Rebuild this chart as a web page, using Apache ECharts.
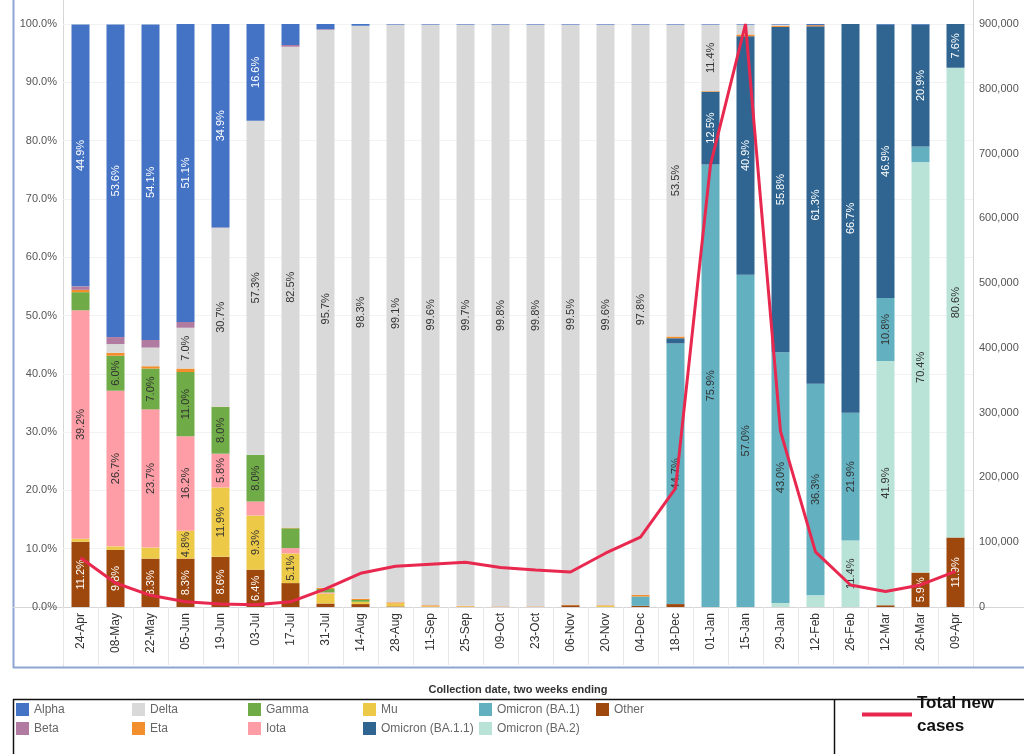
<!DOCTYPE html>
<html>
<head>
<meta charset="utf-8">
<script src="https://cdn.jsdelivr.net/npm/echarts@6/dist/echarts.min.js"></script>
<style>
html,body{margin:0;padding:0;background:#fff;}
#chart{width:1024px;height:754px;}
</style>
</head>
<body>
<div id="chart"></div>
<script>
// ---- data ----
const categories = ['24-Apr','08-May','22-May','05-Jun','19-Jun','03-Jul','17-Jul','31-Jul','14-Aug','28-Aug','11-Sep','25-Sep','09-Oct','23-Oct','06-Nov','20-Nov','04-Dec','18-Dec','01-Jan','15-Jan','29-Jan','12-Feb','26-Feb','12-Mar','26-Mar','09-Apr'];
const other   = [11.2,9.8,8.3,8.3,8.6,6.4,4.1,0.6,0.5,0.1,0,0,0,0,0.3,0,0.2,0.5,0,0,0,0,0,0.3,5.9,11.9];
const ba2     = [0,0,0,0,0,0,0,0,0,0,0,0,0,0,0,0,0,0,0,0,0.7,2.0,11.4,41.9,70.4,80.6];
const ba1     = [0,0,0,0,0,0,0,0,0,0,0,0,0,0,0,0,1.6,44.7,75.9,57.0,43.0,36.3,21.9,10.8,2.7,0];
const ba11    = [0,0,0,0,0,0,0,0,0,0,0,0,0,0,0,0,0,0.9,12.5,40.9,55.8,61.3,66.7,46.9,20.9,7.6];
const mu      = [0.5,0.6,1.9,4.8,11.9,9.3,5.1,1.7,0.4,0.5,0.1,0.1,0,0,0,0.2,0,0,0,0,0,0,0,0,0,0];
const iota    = [39.2,26.7,23.7,16.2,5.8,2.4,0.9,0.2,0,0,0,0,0,0,0,0,0,0,0,0,0,0,0,0,0,0];
const gamma   = [3.1,6.0,7.0,11.0,8.0,8.0,3.4,0.6,0.3,0,0,0,0,0,0,0,0,0,0,0,0,0,0,0,0,0];
const eta     = [0.4,0.5,0.4,0.6,0.05,0,0.1,0.2,0.2,0.2,0.2,0.1,0.1,0.1,0.1,0.1,0.3,0.3,0.1,0.3,0.2,0.2,0,0,0,0];
const delta   = [0,1.5,3.2,7.0,30.7,57.3,82.5,95.7,98.3,99.1,99.6,99.7,99.8,99.8,99.5,99.6,97.8,53.5,11.4,1.7,0.2,0,0,0,0,0];
const beta    = [0.6,1.2,1.3,1.0,0.05,0,0.3,0.1,0,0,0,0,0,0,0,0,0,0,0,0,0,0,0,0,0,0];
const alpha   = [44.9,53.6,54.1,51.1,34.9,16.6,3.6,0.9,0.3,0.1,0.1,0.1,0.1,0.1,0.1,0.1,0.1,0.1,0.1,0.1,0.1,0.2,0,0.1,0.1,0];
const totalNewCases = [76000,37000,18000,8000,4500,3500,8000,28000,52000,63000,66000,69000,61000,57000,54000,83000,108000,183000,683000,900000,271000,85000,34000,24000,34000,55000];
const leftTicks = [0,10,20,30,40,50,60,70,80,90,100];
const rightTicks = [0,100000,200000,300000,400000,500000,600000,700000,800000,900000];

// ---- series definitions (stack order bottom -> top) ----
const variants = [
  {name:'Other', data:other, color:'#9E480E', label:'#ffffff'},
  {name:'Omicron (BA.2)', data:ba2, color:'#BAE3D8', label:'#333333'},
  {name:'Omicron (BA.1)', data:ba1, color:'#63B1C0', label:'#333333'},
  {name:'Omicron (BA.1.1)', data:ba11, color:'#2F6590', label:'#ffffff'},
  {name:'Mu', data:mu, color:'#EDC948', label:'#333333'},
  {name:'Iota', data:iota, color:'#FF9DA7', label:'#333333'},
  {name:'Gamma', data:gamma, color:'#6FAB46', label:'#333333'},
  {name:'Eta', data:eta, color:'#F28E2B', label:'#333333'},
  {name:'Delta', data:delta, color:'#D9D9D9', label:'#333333'},
  {name:'Beta', data:beta, color:'#B07AA1', label:'#ffffff'},
  {name:'Alpha', data:alpha, color:'#4472C4', label:'#ffffff'}
];

const FONT = 'Liberation Sans';
const series = variants.map(v => ({
  name: v.name,
  type: 'bar',
  stack: 'share',
  yAxisIndex: 0,
  barWidth: 18,
  data: v.data,
  itemStyle: {color: v.color},
  emphasis: {disabled: true},
  label: {
    show: true,
    position: 'inside',
    rotate: 90,
    fontFamily: FONT,
    fontSize: 11,
    color: v.label,
    formatter: p => (p.value >= 4.5 ? p.value.toFixed(1) + '%' : '')
  }
}));
series.push({
  name: 'Total new cases',
  type: 'line',
  yAxisIndex: 1,
  data: totalNewCases,
  symbol: 'none',
  smooth: false,
  clip: false,
  z: 10,
  lineStyle: {color: '#E8284F', width: 3},
  itemStyle: {color: '#E8284F'}
});

const legendCols = [
  {left: 16, data: ['Alpha','Beta']},
  {left: 132, data: ['Delta','Eta']},
  {left: 248, data: ['Gamma','Iota']},
  {left: 363, data: ['Mu','Omicron (BA.1.1)']},
  {left: 479, data: ['Omicron (BA.1)','Omicron (BA.2)']},
  {left: 596, data: ['Other']}
];
const legends = legendCols.map(c => ({
  left: c.left, top: 703, orient: 'vertical', padding: 0,
  itemWidth: 13, itemHeight: 13, itemGap: 6, icon: 'rect',
  selectedMode: false,
  data: c.data,
  textStyle: {fontFamily: FONT, fontSize: 12, color: '#666666'}
}));
legends.push({
  left: 862, top: 680, padding: 0, icon: 'rect',
  itemWidth: 50, itemHeight: 4, selectedMode: false,
  data: ['Total new cases'],
  formatter: () => 'Total new\ncases',
  textStyle: {fontFamily: FONT, fontSize: 17, fontWeight: 'bold', color: '#111111', lineHeight: 23, padding: [23,0,0,0]}
});

const frame = '#8EA6CF';
const divider = '#D6D6D6';
function ln(x1,y1,x2,y2,color,w){return {type:'line', silent:true, z:-1, shape:{x1,y1,x2,y2}, style:{stroke:color, lineWidth:w}};}

const option = {
  animation: false,
  backgroundColor: '#ffffff',
  grid: {left: 63, right: 51, top: 24, bottom: 147, containLabel: false},
  legend: legends,
  xAxis: {
    type: 'category',
    data: categories,
    boundaryGap: true,
    name: 'Collection date, two weeks ending',
    nameLocation: 'middle',
    nameGap: 77,
    nameTextStyle: {fontFamily: FONT, fontSize: 11, fontWeight: 'bold', color: '#333333'},
    axisLine: {show: true, lineStyle: {color: divider}},
    axisTick: {show: true, length: 58, interval: 0, lineStyle: {color: '#E8E8E8'}},
    axisLabel: {rotate: 90, interval: 0, margin: 6, fontFamily: FONT, fontSize: 12, color: '#333333'}
  },
  yAxis: [
    {
      type: 'value', min: 0, max: 100, interval: 10,
      axisLine: {show: false}, axisTick: {show: false},
      splitLine: {show: true, lineStyle: {color: '#F2F2F2'}},
      axisLabel: {margin: 6, fontFamily: FONT, fontSize: 11, color: '#555555', padding: [6,0,0,0],
        formatter: v => (leftTicks.includes(v) ? v.toFixed(1) + '%' : '')}
    },
    {
      type: 'value', min: 0, max: 900000, interval: 100000, position: 'right',
      axisLine: {show: false}, axisTick: {show: false}, splitLine: {show: false},
      axisLabel: {margin: 6, fontFamily: FONT, fontSize: 11, color: '#555555', padding: [0,0,7,0],
        formatter: v => (rightTicks.includes(v) ? v.toLocaleString('en-US') : '')}
    }
  ],
  graphic: [
    ln(13.5,0,13.5,668,frame,2),
    ln(13,667.5,1024,667.5,frame,2),
    ln(63.5,0,63.5,666,divider,1),
    ln(973.5,0,973.5,666,divider,1),
    ln(13,607.5,1024,607.5,divider,1),
    ln(13,699.5,1024,699.5,'#111111',1.5),
    ln(13.5,699,13.5,754,'#111111',1.5),
    ln(834.5,699,834.5,754,'#111111',1.5)
  ],
  series: series
};

const chart = echarts.init(document.getElementById('chart'), null, {renderer: 'canvas'});
chart.setOption(option);
</script>
</body>
</html>
